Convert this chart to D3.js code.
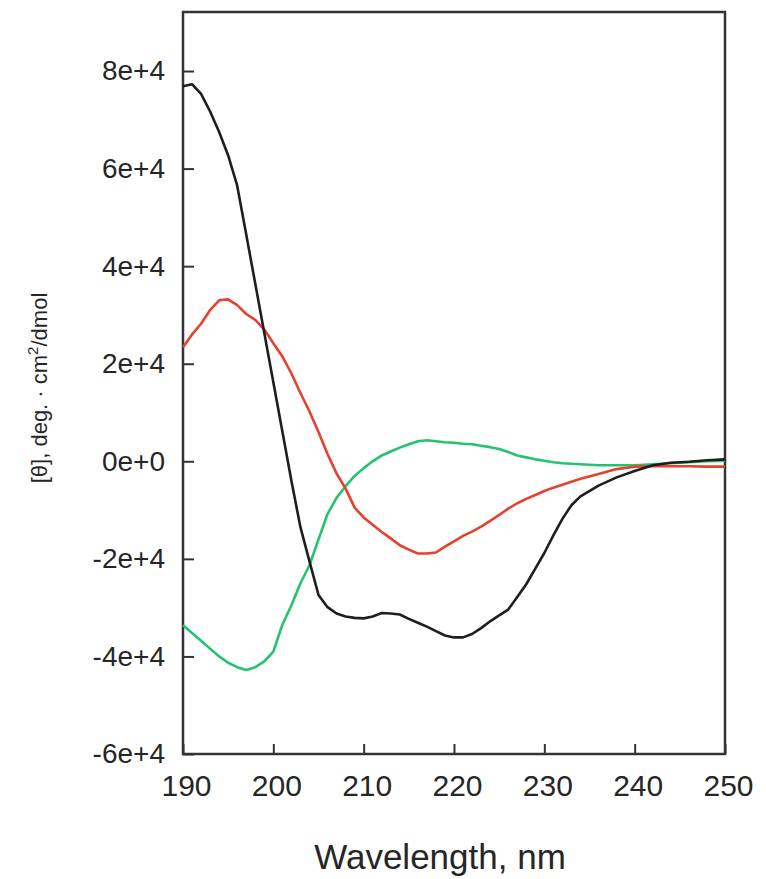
<!DOCTYPE html>
<html lang="en">
<head>
  <meta charset="UTF-8">
  <title>CD spectra</title>
  <style>
    body { margin: 0; background: #fff; }
    text { font-family: "Liberation Sans", Arial, Helvetica, sans-serif; fill: #262626; }
  </style>
</head>
<body>
  <svg width="766" height="879"></svg>
  <script src="https://d3js.org/d3.v7.min.js"></script>
  <script>
    // wavelength grid (nm)
    var wavelengths = [190, 191, 192, 193, 194, 195, 196, 197, 198, 199,
      200, 201, 202, 203, 204, 205, 206, 207, 208, 209,
      210, 211, 212, 213, 214, 215, 216, 217, 218, 219,
      220, 221, 222, 223, 224, 225, 226, 227, 228, 229,
      230, 231, 232, 233, 234, 236, 238, 240, 242, 244, 246, 248, 250];

    // mean residue ellipticity, deg cm2/dmol
    var blackSeries = [76900, 77300, 75300, 71700, 67500, 62700, 56500, 46500, 36400, 26300,
      16200, 6100, -4000, -13500, -20500, -27400, -29900, -31200, -31800, -32100,
      -32200, -31800, -31100, -31200, -31400, -32300, -33100, -33900, -34800, -35700,
      -36100, -36100, -35400, -34200, -32800, -31600, -30400, -27800, -25200, -22000,
      -18800, -15200, -11800, -9000, -7200, -5000, -3300, -2000, -800, -300, -100, 200, 400];

    var redSeries = [23400, 26000, 28200, 31000, 33000, 33200, 32000, 30200, 29000, 27000,
      24200, 21500, 18000, 14000, 10200, 6000, 1500, -2500, -5600, -9500,
      -11500, -13000, -14500, -15800, -17200, -18100, -18900, -18900, -18700, -17500,
      -16400, -15300, -14400, -13400, -12200, -11000, -9700, -8600, -7700, -6900,
      -6100, -5400, -4800, -4200, -3600, -2600, -1600, -1100, -1000, -1000, -1000, -1100, -1100];

    var greenSeries = [-33600, -35200, -36800, -38400, -40000, -41300, -42200, -42800, -42200, -41000,
      -39000, -33500, -29500, -25000, -21300, -16000, -10800, -7500, -5100, -3000,
      -1400, 0, 1200, 2000, 2800, 3500, 4100, 4300, 4100, 3900,
      3800, 3600, 3500, 3200, 2900, 2500, 1900, 1200, 800, 400,
      100, -200, -400, -500, -600, -800, -800, -800, -600, -400, -200, 0, 100];

    var xTicks = [190, 200, 210, 220, 230, 240, 250];
    var yTicks = [-60000, -40000, -20000, 0, 20000, 40000, 60000, 80000];
    var yTickLabels = ["-6e+4", "-4e+4", "-2e+4", "0e+0", "2e+4", "4e+4", "6e+4", "8e+4"];

    var svg = d3.select("svg");
    var plotLeft = 183, plotRight = 725, plotTop = 12, plotBottom = 754;

    var xScale = d3.scaleLinear().domain([190, 250]).range([plotLeft, plotRight]);
    var yScale = d3.scaleLinear().domain([-60000, 92100]).range([plotBottom, plotTop]);

    // x axis, ticks pointing inward
    var xAxis = svg.append("g")
      .attr("transform", "translate(0," + plotBottom + ")")
      .call(d3.axisBottom(xScale).tickValues(xTicks).tickSizeInner(-10).tickSizeOuter(0).tickPadding(13));
    xAxis.select(".domain").remove();
    xAxis.selectAll(".tick line").attr("stroke", "#333").attr("stroke-width", 2);
    xAxis.selectAll(".tick text")
      .attr("dx", 3)
      .attr("dy", "0.95em")
      .style("font-size", "30px");

    // y axis
    var yAxis = svg.append("g")
      .attr("transform", "translate(" + plotLeft + ",0)")
      .call(d3.axisLeft(yScale).tickValues(yTicks).tickSizeInner(-11).tickSizeOuter(0).tickPadding(18)
        .tickFormat(function (d, i) { return yTickLabels[i]; }));
    yAxis.select(".domain").remove();
    yAxis.selectAll(".tick line").attr("stroke", "#333").attr("stroke-width", 2);
    yAxis.selectAll(".tick text").style("font-size", "28px");

    // frame
    svg.append("rect")
      .attr("x", plotLeft).attr("y", plotTop)
      .attr("width", plotRight - plotLeft).attr("height", plotBottom - plotTop)
      .attr("fill", "none")
      .attr("stroke", "#333")
      .attr("stroke-width", 2.5);

    var line = d3.line()
      .x(function (d) { return xScale(d[0]); })
      .y(function (d) { return yScale(d[1]); });

    var series = [
      { values: greenSeries, color: "#23c46f" },
      { values: redSeries, color: "#e5412c" },
      { values: blackSeries, color: "#1e1e1e" }
    ];

    series.forEach(function (s) {
      svg.append("path")
        .datum(wavelengths.map(function (w, i) { return [w, s.values[i]]; }))
        .attr("fill", "none")
        .attr("stroke", s.color)
        .attr("stroke-width", 2.6)
        .attr("stroke-linejoin", "round")
        .attr("d", line);
    });

    // axis titles
    svg.append("text")
      .attr("x", 440)
      .attr("y", 869)
      .attr("text-anchor", "middle")
      .style("font-size", "35px")
      .text("Wavelength, nm");

    var yTitle = svg.append("text")
      .attr("text-anchor", "middle")
      .attr("transform", "translate(47,388)rotate(-90)")
      .style("font-size", "22px");
    yTitle.append("tspan").text("[\u03b8], deg. \u00b7 cm");
    yTitle.append("tspan").attr("dy", -9).style("font-size", "15px").text("2");
    yTitle.append("tspan").attr("dy", 9).text("/dmol");
  </script>
</body>
</html>
